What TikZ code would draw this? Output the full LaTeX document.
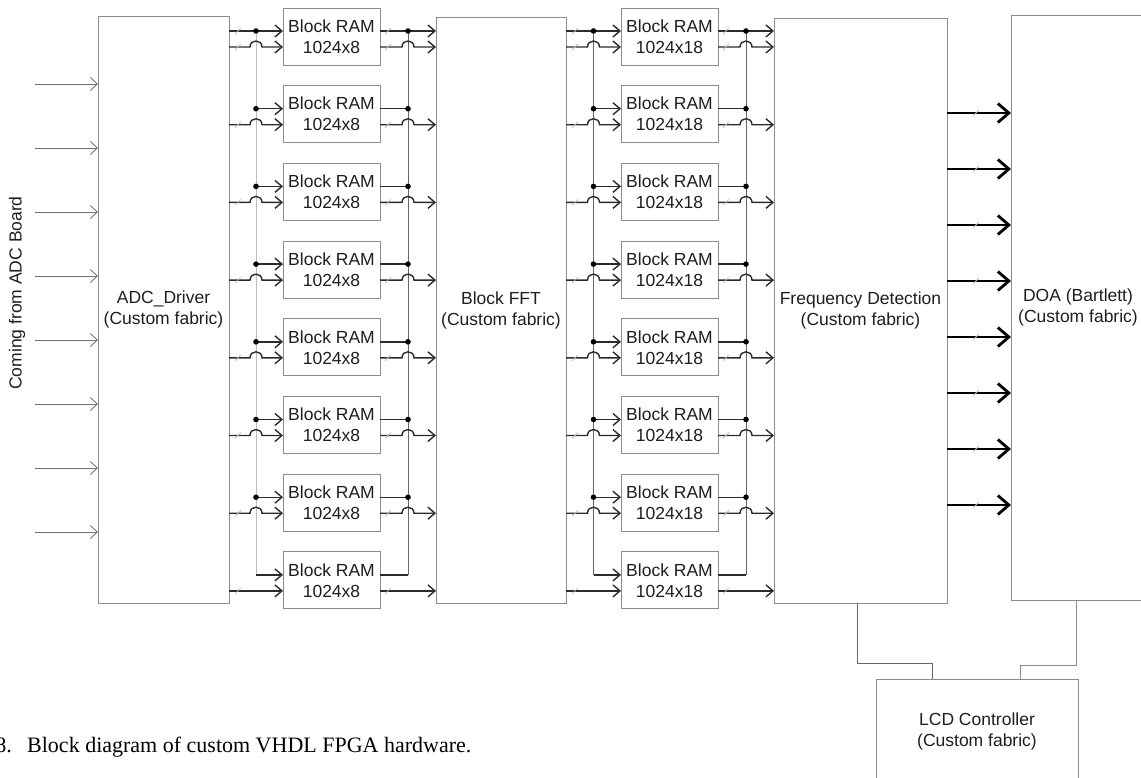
\documentclass[tikz,border=0pt]{standalone}
\usepackage{fontspec}
\setmainfont{Liberation Serif}
\newfontfamily\diagfont{Liberation Sans}
\usepackage{xcolor}
\definecolor{cWire}{HTML}{2B2B2B}
\definecolor{cEdge}{HTML}{8C8C8C}
\definecolor{cDark}{HTML}{666666}
\definecolor{cFaint}{HTML}{BDBDBD}
\definecolor{cInput}{HTML}{707070}
\definecolor{cText}{HTML}{1E1E1E}
\usetikzlibrary{arrows.meta,calc}
\tikzset{
  block-big/.style={draw=cEdge,line width=1pt,inner sep=0pt,outer sep=0pt,
    align=center,text=cText},
  block-ram/.style={draw=cEdge,line width=1pt,inner sep=0pt,outer sep=0pt,
    minimum width=97pt,minimum height=57pt,align=center,text=cText},
  wire/.style={draw=cWire,line width=1.4pt},
  wire-tip/.style={-{Straight Barb[length=7pt,width=12pt]}},
  bus-line/.style={line width=1pt},
  bus-mark/.style={draw=cFaint,line width=0.8pt},
  arrow-in/.style={draw=cInput,line width=0.9pt,-{Straight Barb[length=7pt,width=13pt]}},
  arrow-fat/.style={draw=black,line width=2.8pt,-{Straight Barb[length=11pt,width=19pt]}},
  link/.style={line width=1pt},
  junction/.style={fill=black},
}
% slash on a bus line, #2 = offset from the point
\newcommand{\busmark}[2]{\draw[bus-mark] ($(#1)+({#2-3},3)$) -- ($(#1)+({#2+3},-3)$);}
% wire hopping over a vertical bus
\newcommand{\hopwire}[4]{%
  \draw[wire,wire-tip] (#1) -- ($(#2 |- #3)+(-6,0)$)
    .. controls +(0,-8) and +(0,-8) .. ($(#2 |- #3)+(6,0)$) -- (#4);}

\begin{document}
\begin{tikzpicture}[x=1pt,y=-1pt,every node/.append style={font=\diagfont\fontsize{17.5}{21}\selectfont}]
  \useasboundingbox (0,0) rectangle (1141,777);
  \node[block-big,minimum width=131pt,minimum height=587pt] (adc) at (163.5,309.5) {ADC\_Driver\\(Custom fabric)};
  \node[block-big,minimum width=130pt,minimum height=586pt] (fft) at (501,310) {Block FFT\\(Custom fabric)};
  \node[block-big,minimum width=173pt,minimum height=585pt] (fd) at (860.5,310.5) {Frequency Detection\\(Custom fabric)};
  \node[block-big,minimum width=134pt,minimum height=585pt] (doa) at (1078,307.5) {DOA (Bartlett)\\(Custom fabric)};
  \node[block-big,minimum width=202pt,minimum height=104pt] (lcd) at (977,731) {LCD Controller\\(Custom fabric)};
  \node[rotate=90,text=cText] (board) at (17,293) {Coming from ADC Board};
  \node[font=\rmfamily\fontsize{22}{26}\selectfont,anchor=base west,inner sep=0pt] (caption) at (27,752)
    {\llap{8.\hspace{0.7em}}Block diagram of custom VHDL FPGA hardware.};

  \foreach \k in {0,...,7} {
    \coordinate (in\k) at (35,{84+64*\k});
    \draw[arrow-in] (in\k) -- (adc.west |- in\k);
  }

  \foreach \grp/\srcblk/\dstblk/\xpos/\ramsize/\incol in {A/adc/fft/331.5/1024x8/cFaint, B/fft/fd/669.5/1024x18/cDark} {
    \foreach \i in {1,...,8} {
      \node[block-ram] (ram\grp\i) at (\xpos,{36.5+77.7*(\i-1)}) {Block RAM\\\ramsize};
      \coordinate (ram\grp\i-iu) at ([yshift=5.5pt]ram\grp\i.west);
      \coordinate (ram\grp\i-il) at ([yshift=-10.5pt]ram\grp\i.west);
      \coordinate (ram\grp\i-ou) at ([yshift=5.5pt]ram\grp\i.east);
      \coordinate (ram\grp\i-ol) at ([yshift=-10.5pt]ram\grp\i.east);
    }
    \coordinate (bus\grp-in) at ($(\srcblk.east)!0.5!(ram\grp1.west)$);
    \coordinate (bus\grp-out) at ($(ram\grp1.east)!0.5!(\dstblk.west)$);
    \draw[bus-line,draw=\incol] (bus\grp-in |- ram\grp1-iu) -- (bus\grp-in |- ram\grp8-iu);
    \draw[bus-line,draw=cDark] (bus\grp-out |- ram\grp1-ou) -- (bus\grp-out |- ram\grp8-ou);
    % first block gets the shared lines straight through
    \draw[wire,wire-tip] (\srcblk.east |- ram\grp1-iu) -- (ram\grp1-iu);
    \draw[wire,wire-tip] (ram\grp1-ou) -- (\dstblk.west |- ram\grp1-ou);
    \busmark{\srcblk.east |- ram\grp1-iu}{9}
    \busmark{ram\grp1-ou}{8}
    \foreach \i in {2,...,8} {
      \draw[wire,wire-tip] (bus\grp-in |- ram\grp\i-iu) -- (ram\grp\i-iu);
      \draw[wire] (ram\grp\i-ou) -- (bus\grp-out |- ram\grp\i-ou);
    }
    \foreach \i in {1,...,7} {
      \hopwire{\srcblk.east |- ram\grp\i-il}{bus\grp-in}{ram\grp\i-il}{ram\grp\i-il}
      \hopwire{ram\grp\i-ol}{bus\grp-out}{ram\grp\i-ol}{\dstblk.west |- ram\grp\i-ol}
      \fill[junction] (bus\grp-in |- ram\grp\i-iu) circle[radius=2.8pt];
      \fill[junction] (bus\grp-out |- ram\grp\i-ou) circle[radius=2.8pt];
    }
    \draw[wire,wire-tip] (\srcblk.east |- ram\grp8-il) -- (ram\grp8-il);
    \draw[wire,wire-tip] (ram\grp8-ol) -- (\dstblk.west |- ram\grp8-ol);
    \foreach \i in {1,...,8} {
      \busmark{\srcblk.east |- ram\grp\i-il}{9}
      \busmark{ram\grp\i-ol}{8}
    }
  }

  \foreach \k in {0,...,7} {
    \coordinate (fdout\k) at (fd.east |- 0,{113+56*\k});
    \draw[arrow-fat] (fdout\k) -- (doa.west |- fdout\k);
    \busmark{fdout\k}{29}
  }

  \draw[link,draw=cDark] ([xshift=-3.5pt]fd.south) -- ++(0,60) -| ([xshift=-45pt]lcd.north);
  \draw[link,draw=cEdge] ([xshift=-2pt]doa.south) -- ++(0,65) -| ([xshift=43pt]lcd.north);
\end{tikzpicture}
\end{document}
